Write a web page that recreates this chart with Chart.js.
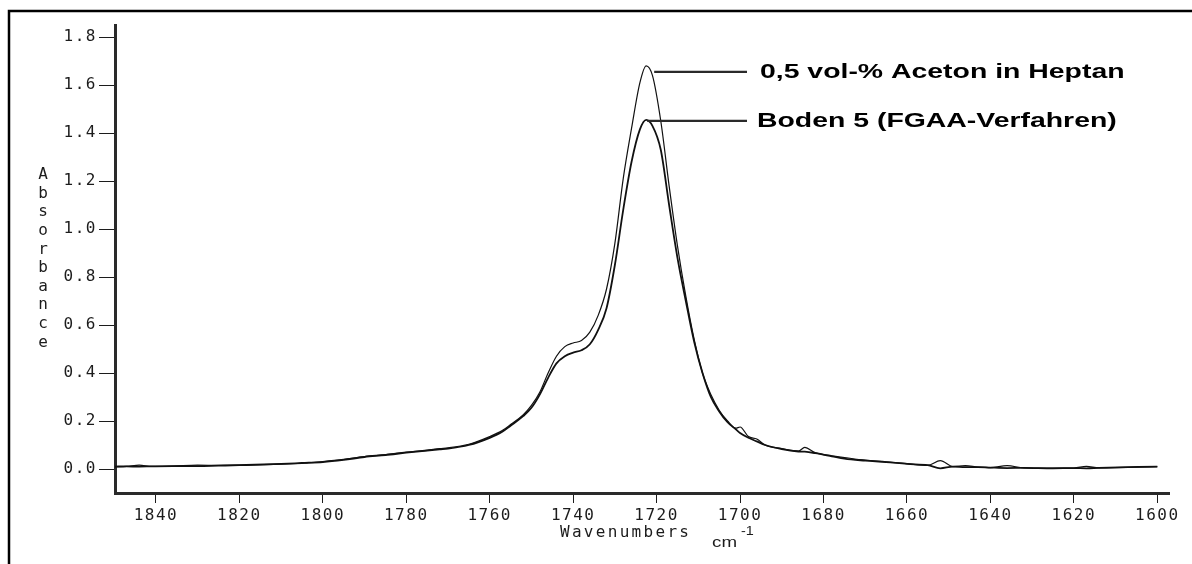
<!DOCTYPE html>
<html lang="de">
<head>
<meta charset="utf-8">
<title>Absorbance – Aceton in Heptan</title>
<script src="https://cdn.jsdelivr.net/npm/chart.js@4.4.1/dist/chart.umd.min.js"></script>
<style>
    html, body { margin: 0; padding: 0; background: #fff; }
    #cvSpectrum { display: block; }
</style>
</head>
<body>
<canvas id="cvSpectrum" width="1192" height="564"></canvas>
<script>
// ---- data ----
const wavenumbers = [
    1850, 1847, 1844, 1841, 1836, 1830, 1825, 1820, 1810, 1805, 1800, 1795, 1790, 1785,
    1780, 1775, 1772, 1770, 1765, 1760, 1757, 1755, 1752, 1750, 1748, 1746, 1744, 1742,
    1740, 1738, 1736, 1734, 1732, 1730, 1728, 1726, 1724, 1722.5, 1721, 1719, 1717, 1715,
    1713, 1711, 1709, 1707, 1705, 1703, 1701, 1700, 1698, 1696, 1694, 1690, 1686, 1684.5,
    1682, 1678, 1675, 1670, 1665, 1660, 1655, 1652, 1649, 1646, 1643, 1640, 1636, 1632,
    1625, 1620, 1617, 1614, 1600
];
const acetonHeptan = [
    0.010, 0.011, 0.016, 0.011, 0.012, 0.016, 0.015, 0.016, 0.020, 0.024, 0.031, 0.040, 0.052, 0.060,
    0.070, 0.078, 0.085, 0.088, 0.103, 0.135, 0.160, 0.185, 0.225, 0.265, 0.320, 0.400, 0.470, 0.510,
    0.525, 0.535, 0.570, 0.640, 0.750, 0.940, 1.210, 1.420, 1.610, 1.680, 1.640, 1.450, 1.180, 0.930,
    0.720, 0.540, 0.400, 0.310, 0.245, 0.200, 0.170, 0.175, 0.135, 0.125, 0.100, 0.085, 0.075, 0.090,
    0.068, 0.055, 0.048, 0.037, 0.030, 0.022, 0.015, 0.035, 0.010, 0.014, 0.008, 0.006, 0.014, 0.005,
    0.004, 0.004, 0.011, 0.005, 0.010
];
const boden5 = [
    0.010, 0.011, 0.010, 0.011, 0.012, 0.012, 0.014, 0.016, 0.021, 0.025, 0.029, 0.038, 0.050, 0.058,
    0.068, 0.077, 0.082, 0.085, 0.100, 0.130, 0.155, 0.180, 0.220, 0.255, 0.310, 0.380, 0.440, 0.470,
    0.485, 0.495, 0.520, 0.580, 0.670, 0.850, 1.080, 1.280, 1.415, 1.455, 1.430, 1.330, 1.100, 0.880,
    0.700, 0.530, 0.400, 0.300, 0.240, 0.195, 0.165, 0.150, 0.130, 0.115, 0.100, 0.083, 0.073, 0.072,
    0.066, 0.053, 0.043, 0.035, 0.029, 0.021, 0.016, 0.003, 0.010, 0.008, 0.008, 0.006, 0.004, 0.005,
    0.003, 0.004, 0.003, 0.005, 0.010
];
const seriesLabels = ["0,5 vol-% Aceton in Heptan", "Boden 5 (FGAA-Verfahren)"];
const xTicks = [1840, 1820, 1800, 1780, 1760, 1740, 1720, 1700, 1680, 1660, 1640, 1620, 1600];
const yTicks = [0, 0.2, 0.4, 0.6, 0.8, 1.0, 1.2, 1.4, 1.6, 1.8];
const yTitle = "Absorbance";
const xTitle = "Wavenumbers";
const xUnit = "cm";
const xUnitExp = "-1";

(function (window, document) {
    "use strict";

    const INK = "#1c1c1c";
    const MONO = "'DejaVu Sans Mono', 'Liberation Mono', monospace";
    const SANS = "'Liberation Sans', Arial, sans-serif";
    const SPACING = "1.5px"; // plotter font is wide

    const toPoints = (vals) => vals.map((v, i) => ({ x: wavenumbers[i], y: v }));

    function peakIndex(vals) {
        let k = 0;
        vals.forEach((v, i) => { if (v > vals[k]) k = i; });
        return k;
    }

    function wideText(ctx, text, x, y, font, stretch) {
        ctx.save();
        ctx.letterSpacing = "0px";
        ctx.font = font;
        ctx.translate(x, y);
        ctx.scale(stretch, 1);
        ctx.fillText(text, 0, 0);
        ctx.restore();
    }

    /* ---------------- frame, titles, peak labels ---------------- */
    const decor = {
        id: "spectrumDecor",
        beforeLayout(chart) { chart.ctx.letterSpacing = SPACING; },
        beforeDraw(chart) {
            const ctx = chart.ctx;
            ctx.save();
            ctx.fillStyle = "#fff";
            ctx.fillRect(0, 0, chart.width, chart.height);
            ctx.strokeStyle = "#000";
            ctx.lineWidth = 2.5;
            ctx.beginPath();
            ctx.moveTo(9, chart.height + 5);
            ctx.lineTo(9, 11);
            ctx.lineTo(chart.width + 5, 11);
            ctx.stroke();
            ctx.restore();
            ctx.letterSpacing = SPACING;
        },
        afterDraw(chart) {
            const ctx = chart.ctx;
            const sx = chart.scales.x, sy = chart.scales.y;
            ctx.save();
            ctx.fillStyle = INK;

            // stacked y title
            ctx.letterSpacing = "0px";
            ctx.font = "16px " + MONO;
            ctx.textAlign = "center";
            ctx.textBaseline = "middle";
            Array.from(yTitle).forEach((ch, i) => ctx.fillText(ch, 43, 175 + i * 18.6));

            // x title + unit
            ctx.textAlign = "left";
            ctx.letterSpacing = "2.3px";
            ctx.fillText(xTitle, 560, 533);
            ctx.letterSpacing = "0px";
            wideText(ctx, xUnit, 712, 543, "15px " + SANS, 1.25);
            wideText(ctx, xUnitExp, 741, 532, "12px " + SANS, 1.2);

            // leader lines + series labels
            const ends = [747, 747];
            const textX = [760, 757];
            [acetonHeptan, boden5].forEach((vals, n) => {
                const k = peakIndex(vals);
                const px = sx.getPixelForValue(wavenumbers[k]);
                const py = sy.getPixelForValue(vals[k]);
                const ly = n === 0 ? py + 6 : py + 1;
                ctx.strokeStyle = "#2a2a2a";
                ctx.lineWidth = 2.2;
                ctx.beginPath();
                ctx.moveTo(px + (n === 0 ? 8 : 1), ly);
                ctx.lineTo(ends[n], ly);
                ctx.stroke();
                ctx.fillStyle = "#000";
                wideText(ctx, seriesLabels[n], textX[n], ly + 1, "bold 20px " + SANS, 1.42);
            });
            ctx.restore();
        }
    };

    function axisOpts(ticks, tickLen, fmt) {
        return {
            afterBuildTicks: (s) => { s.ticks = ticks.map(v => ({ value: v })); },
            ticks: {
                color: INK,
                font: { family: MONO, size: 16 },
                autoSkip: false,
                maxRotation: 0,
                callback: fmt
            },
            grid: { display: true, drawOnChartArea: false, drawTicks: true, tickLength: tickLen, color: INK, lineWidth: 1 },
            border: { display: true, color: "#2a2a2a", width: 3 }
        };
    }

    function init() {
        const canvas = document.getElementById("cvSpectrum");
        if (!canvas || typeof Chart === "undefined") return;

        const xAxis = axisOpts(xTicks, 10, (v) => String(v));
        Object.assign(xAxis, {
            type: "linear", reverse: true, min: 1597.2, max: 1849.8,
            afterFit: (s) => { s.height = 71; }
        });
        xAxis.ticks.padding = 3;

        const yAxis = axisOpts(yTicks, 16, (v) => Number(v).toFixed(1));
        Object.assign(yAxis, {
            type: "linear", min: -0.1, max: 1.85,
            afterFit: (s) => { s.width = 115; }
        });
        yAxis.ticks.padding = 2;

        new Chart(canvas.getContext("2d"), {
            type: "line",
            data: {
                datasets: [
                    { label: seriesLabels[0], data: toPoints(acetonHeptan), borderColor: "#111", borderWidth: 1.2 },
                    { label: seriesLabels[1], data: toPoints(boden5), borderColor: "#111", borderWidth: 1.8 }
                ]
            },
            options: {
                responsive: false,
                animation: false,
                devicePixelRatio: 1,
                layout: { padding: { top: 25, right: 23, left: 0, bottom: 0 } },
                elements: {
                    point: { radius: 0 },
                    line: { cubicInterpolationMode: "monotone", fill: false }
                },
                plugins: { legend: { display: false }, tooltip: { enabled: false } },
                scales: { x: xAxis, y: yAxis }
            },
            plugins: [decor]
        });
    }

    init();
})(window, document);
</script>
</body>
</html>
